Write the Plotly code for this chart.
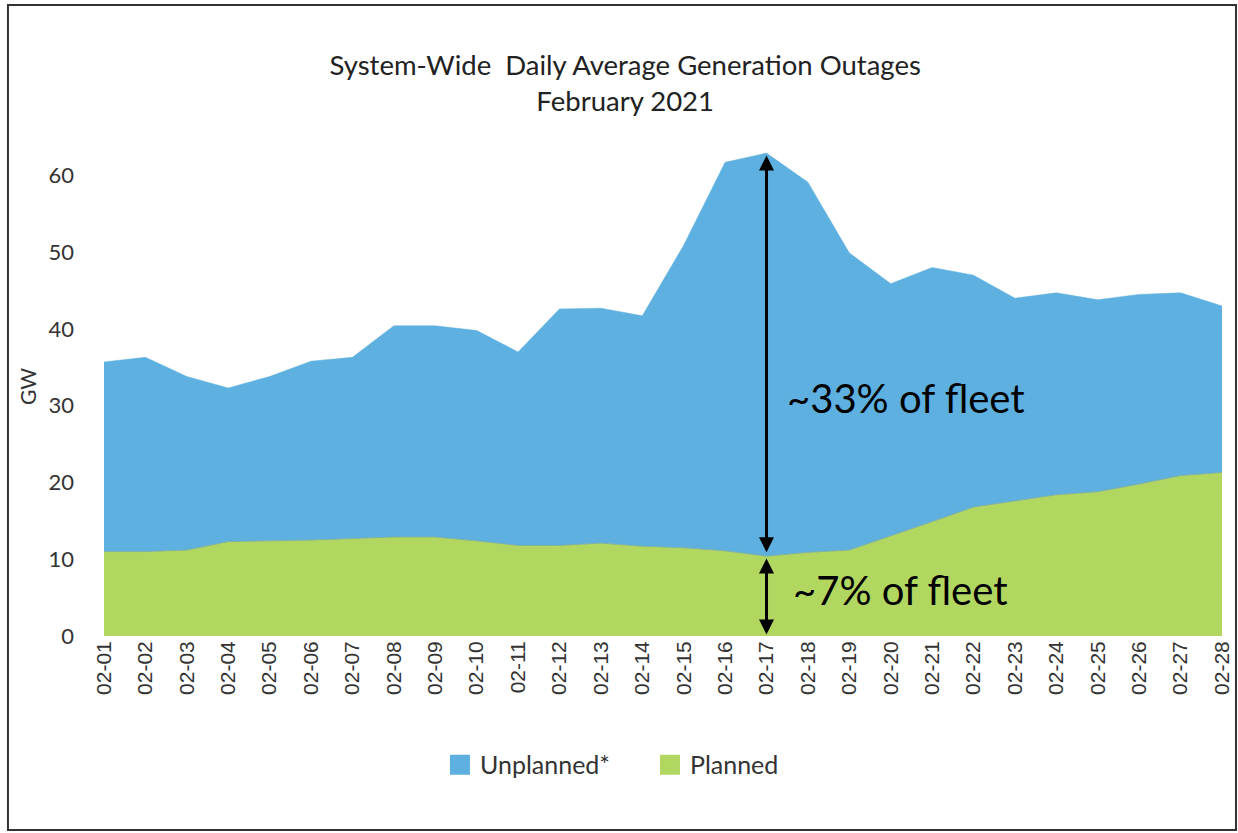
import plotly.graph_objects as go

days = ["02-01", "02-02", "02-03", "02-04", "02-05", "02-06", "02-07", "02-08", "02-09", "02-10",
        "02-11", "02-12", "02-13", "02-14", "02-15", "02-16", "02-17", "02-18", "02-19", "02-20",
        "02-21", "02-22", "02-23", "02-24", "02-25", "02-26", "02-27", "02-28"]
planned = [11.0, 11.0, 11.2, 12.3, 12.4, 12.5, 12.7, 12.9, 12.9, 12.4,
           11.8, 11.8, 12.1, 11.7, 11.5, 11.1, 10.4, 10.9, 11.2, 13.0,
           14.9, 16.8, 17.6, 18.4, 18.8, 19.8, 20.9, 21.3]
unplanned = [24.7, 25.3, 22.6, 20.0, 21.4, 23.3, 23.6, 27.5, 27.5, 27.4,
             25.2, 30.8, 30.6, 30.0, 39.4, 50.6, 52.5, 48.2, 38.7, 32.9,
             33.1, 30.2, 26.4, 26.3, 25.0, 24.7, 23.8, 21.7]
y_ticks = [0, 10, 20, 30, 40, 50, 60]
peak_day = "02-17"
label_unplanned = "~33% of fleet"
label_planned = "~7% of fleet"

BLUE = "#5db0df"
GREEN = "#b1d761"

xs = list(range(len(days)))
pk = days.index(peak_day)
pk_planned = planned[pk]
pk_total = planned[pk] + unplanned[pk]

fig = go.Figure()
fig.add_trace(go.Scatter(x=xs, y=planned, name="Planned", stackgroup="one", mode="lines",
                         line=dict(color="#7fb0a0", width=1), fillcolor=GREEN, showlegend=False))
fig.add_trace(go.Scatter(x=xs, y=unplanned, name="Unplanned*", stackgroup="one", mode="lines",
                         line=dict(color=BLUE, width=0.5), fillcolor=BLUE, showlegend=False))
# legend entries with square swatches
fig.add_trace(go.Scatter(x=[None], y=[None], name="Unplanned*", mode="markers",
                         marker=dict(symbol="square", size=18, color=BLUE, line=dict(color=BLUE, width=4))))
fig.add_trace(go.Scatter(x=[None], y=[None], name="Planned", mode="markers",
                         marker=dict(symbol="square", size=18, color=GREEN, line=dict(color=GREEN, width=4))))

# arrows
fig.add_annotation(x=pk, y=pk_total - 0.3, ax=pk, ay=pk_planned + 0.3, axref="x", ayref="y",
                   xref="x", yref="y", text="", showarrow=True, arrowhead=2, arrowside="end+start",
                   arrowwidth=3, arrowsize=1, arrowcolor="black")
fig.add_annotation(x=pk, y=pk_planned - 0.3, ax=pk, ay=0.0, axref="x", ayref="y",
                   xref="x", yref="y", text="", showarrow=True, arrowhead=2, arrowside="end+start",
                   arrowwidth=3, arrowsize=1, arrowcolor="black")
fig.add_annotation(x=pk + 0.45, y=31.0, xref="x", yref="y", text=label_unplanned, showarrow=False,
                   xanchor="left", yanchor="middle",
                   font=dict(family="Lato, sans-serif", size=40, color="black"))
fig.add_annotation(x=pk + 0.6, y=6.0, xref="x", yref="y", text=label_planned, showarrow=False,
                   xanchor="left", yanchor="middle",
                   font=dict(family="Lato, sans-serif", size=40, color="black"))

# outer frame
fig.add_shape(type="rect", xref="paper", yref="paper", x0=-0.0859, x1=1.0125, y0=-0.3888, y1=1.2645,
              line=dict(color="#333333", width=2), fillcolor="rgba(0,0,0,0)", layer="above")

fig.update_layout(
    width=1238, height=833,
    paper_bgcolor="white", plot_bgcolor="white",
    margin=dict(l=104, r=16, t=137, b=197, autoexpand=False),
    title=dict(text="System-Wide  Daily Average Generation Outages<br>February 2021",
               x=0.505, xanchor="center", y=1 - 75 / 833, yanchor="middle",
               font=dict(family="Lato, sans-serif", size=27.5, color="#222222")),
    showlegend=True,
    legend=dict(orientation="h", x=0.3005, xanchor="left", y=-0.2585, yanchor="middle",
                traceorder="normal", entrywidth=165, entrywidthmode="pixels",
                font=dict(family="Lato, sans-serif", size=25, color="#333333"),
                itemwidth=30, itemsizing="trace"),
    xaxis=dict(tickmode="array", tickvals=xs, ticktext=days, tickangle=-90, range=[0, len(days) - 1],
               showgrid=False, zeroline=False, showline=False, ticks="", automargin=False,
               ticklabeloverflow="allow",
               tickfont=dict(family="Liberation Sans, Arial, sans-serif", size=21, color="#333333")),
    yaxis=dict(tickmode="array", tickvals=y_ticks, range=[0, 65], showgrid=False, zeroline=False,
               showline=False, ticks="", ticklabelstandoff=29, automargin=False,
               title=dict(text="GW", standoff=6, font=dict(family="Lato, sans-serif", size=21, color="#333333")),
               tickfont=dict(family="Lato, sans-serif", size=22, color="#333333")),
)

fig.write_html("out.html", config={"displayModeBar": False, "responsive": False},
               post_script="document.body.style.margin='0';document.body.style.overflow='hidden';"
                           "document.documentElement.style.overflow='hidden';")
